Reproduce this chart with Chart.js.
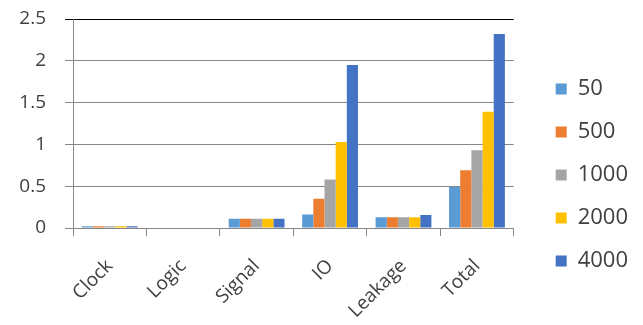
<!DOCTYPE html>
<html>
<head>
<meta charset="utf-8">
<script src="https://cdn.jsdelivr.net/npm/chart.js@4"></script>
<style>
  html, body { margin: 0; padding: 0; background: #ffffff; }
  #wrap { width: 643px; height: 325px; }
</style>
</head>
<body>
<div id="wrap"><canvas id="power" width="643" height="325"></canvas></div>
<script>
// Power breakdown by component, one series per setting
const categories = ['Clock', 'Logic', 'Signal', 'IO', 'Leakage', 'Total'];
const seriesNames = ['50', '500', '1000', '2000', '4000'];
const values50   = [0.02, 0, 0.11, 0.16, 0.13, 0.49];
const values500  = [0.02, 0, 0.11, 0.35, 0.13, 0.69];
const values1000 = [0.02, 0, 0.11, 0.58, 0.13, 0.93];
const values2000 = [0.02, 0, 0.11, 1.03, 0.13, 1.39];
const values4000 = [0.02, 0, 0.11, 1.95, 0.155, 2.32];
const yTicks = [0, 0.5, 1, 1.5, 2, 2.5];

const seriesValues = [values50, values500, values1000, values2000, values4000];
const seriesColors = ['#5b9bd5', '#ed7d31', '#a5a5a5', '#ffc000', '#4472c4'];

const textColor = '#404040';
const gridColor = '#868686';
const frameColor = '#000000';
const fontFamily = '"Open Sans", "DejaVu Sans", sans-serif';

new Chart(document.getElementById('power'), {
  type: 'bar',
  data: {
    labels: categories,
    datasets: seriesNames.map((name, i) => ({
      label: name,
      data: seriesValues[i],
      backgroundColor: seriesColors[i],
      borderWidth: 0,
      categoryPercentage: 0.76,
      barPercentage: 1
    }))
  },
  options: {
    responsive: false,
    animation: false,
    layout: { padding: { top: 19, right: 5, bottom: 0, left: 0 } },
    plugins: {
      tooltip: { enabled: false },
      legend: {
        position: 'right',
        align: 'center',
        // empty title only reserves a few pixels above the items
        title: { display: true, text: '', padding: 0, font: { size: 5 } },
        labels: {
          boxWidth: 11,
          boxHeight: 11,
          padding: 21,
          color: textColor,
          font: { family: fontFamily, size: 22 }
        }
      }
    },
    scales: {
      x: {
        grid: {
          drawOnChartArea: true,
          drawTicks: true,
          tickLength: 8,
          // only the closing boundary is drawn across the plot: the frame's right edge
          color: (ctx) => (ctx.index === categories.length ? frameColor : 'rgba(0,0,0,0)'),
          tickColor: gridColor
        },
        border: { color: gridColor },
        ticks: {
          minRotation: 45,
          maxRotation: 45,
          padding: 19,
          color: textColor,
          font: { family: fontFamily, size: 19 }
        },
        afterFit: (scale) => { scale.height = 97; scale.paddingLeft = 0; scale.paddingRight = 0; }
      },
      y: {
        min: 0,
        max: 2.5,
        afterBuildTicks: (scale) => { scale.ticks = yTicks.map(v => ({ value: v })); },
        grid: {
          tickLength: 8,
          color: (ctx) => (ctx.tick && ctx.tick.value === 2.5 ? frameColor : gridColor)
        },
        border: { color: gridColor },
        ticks: {
          padding: 19,
          color: textColor,
          font: { family: fontFamily, size: 19 },
          callback: (v) => String(v)
        },
        afterFit: (scale) => { scale.width = 73; scale.paddingTop = 0; scale.paddingBottom = 0; }
      },
      gap: {
        type: 'linear',
        position: 'right',
        min: 0,
        max: 2.5,
        grid: { display: false },
        border: { display: false },
        ticks: { display: false },
        afterFit: (scale) => { scale.width = 21; }
      }
    }
  }
});
</script>
</body>
</html>
